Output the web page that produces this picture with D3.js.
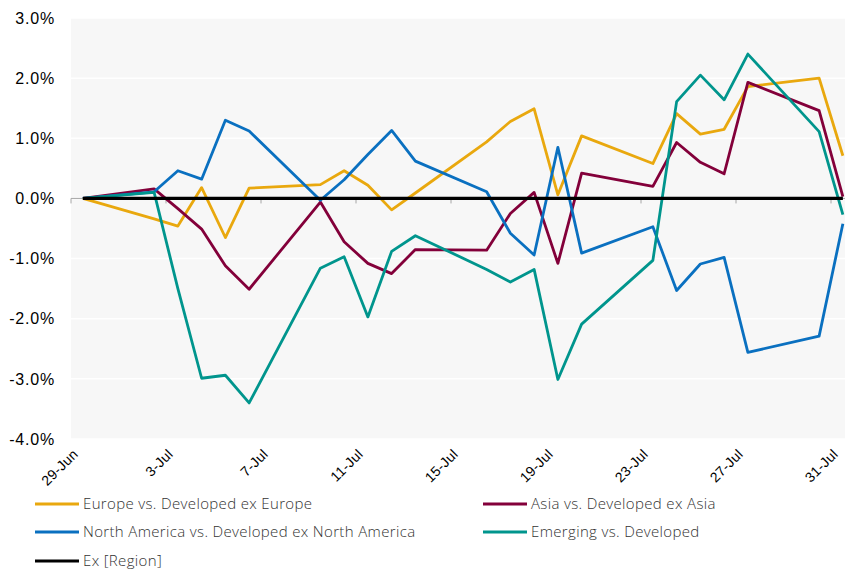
<!DOCTYPE html>
<html>
<head>
<meta charset="utf-8">
<script src="https://cdn.jsdelivr.net/npm/d3@7"></script>
<style>
  body { margin: 0; background: #fff; }
  svg { display: block; }
  .ylab { font-family: "Liberation Sans", Arial, sans-serif; font-size: 16px; letter-spacing: 0.8px; fill: #000; }
  .xlab { font-family: "Liberation Sans", Arial, sans-serif; font-size: 14px; letter-spacing: 0.3px; fill: #000; }
  .leg { font-family: "Open Sans", "Liberation Sans", sans-serif; font-size: 15px; font-weight: 300; letter-spacing: 0.35px; fill: #333; }
</style>
</head>
<body>
<div id="chart"></div>
<script>
// trading days, 29-Jun to 31-Jul
let dates = ["2018-06-29", "2018-07-02", "2018-07-03", "2018-07-04", "2018-07-05", "2018-07-06",
    "2018-07-09", "2018-07-10", "2018-07-11", "2018-07-12", "2018-07-13",
    "2018-07-16", "2018-07-17", "2018-07-18", "2018-07-19", "2018-07-20",
    "2018-07-23", "2018-07-24", "2018-07-25", "2018-07-26", "2018-07-27",
    "2018-07-30", "2018-07-31"];

// relative performance, in %
let europe   = [0, -0.34, -0.46, 0.18, -0.65, 0.17, 0.23, 0.46, 0.22, -0.19, 0.09, 0.94, 1.28, 1.49, 0.06, 1.04, 0.58, 1.41, 1.07, 1.15, 1.86, 2.00, 0.71];
let asia     = [0, 0.16, -0.17, -0.51, -1.12, -1.51, -0.06, -0.72, -1.08, -1.25, -0.85, -0.86, -0.25, 0.10, -1.08, 0.42, 0.20, 0.93, 0.60, 0.41, 1.93, 1.46, 0.03];
let nAmerica = [0, 0.11, 0.46, 0.32, 1.30, 1.12, -0.03, 0.31, 0.73, 1.13, 0.62, 0.11, -0.58, -0.94, 0.85, -0.91, -0.47, -1.53, -1.09, -0.98, -2.56, -2.29, -0.42];
let emerging = [0, 0.10, -1.50, -2.99, -2.94, -3.40, -1.16, -0.97, -1.97, -0.88, -0.62, -1.18, -1.39, -1.18, -3.01, -2.09, -1.03, 1.61, 2.05, 1.64, 2.40, 1.11, -0.27];
let exRegion = dates.map(() => 0);

let yTicks = [3, 2, 1, 0, -1, -2, -3, -4];
let xTickDates = ["2018-06-29", "2018-07-03", "2018-07-07", "2018-07-11", "2018-07-15",
    "2018-07-19", "2018-07-23", "2018-07-27", "2018-07-31"];

let series = [
    {name: "Europe vs. Developed ex Europe", values: europe, color: "#E9A80E"},
    {name: "Asia vs. Developed ex Asia", values: asia, color: "#83003A"},
    {name: "North America vs. Developed ex North America", values: nAmerica, color: "#0A70C0"},
    {name: "Emerging vs. Developed", values: emerging, color: "#00958D"},
    {name: "Ex [Region]", values: exRegion, color: "#000000"}
];

let width = 845, height = 570;
let plot = {left: 71, top: 18, bottom: 439};
let dayW = 23.75;

let parse = d3.utcParse("%Y-%m-%d");
let fmt = d3.utcFormat("%-d-%b");
let start = parse("2018-06-29");
let end = d3.utcDay.offset(start, 33);

let svg = d3.select("#chart").append("svg")
    .attr("width", width)
    .attr("height", height);

let x = d3.scaleUtc()
    .domain([start, end])
    .range([plot.left, plot.left + 33 * dayW]);

let y = d3.scaleLinear()
    .domain([-4, 3])
    .range([plot.bottom, plot.top]);

// points sit in the middle of each day slot
let xMid = d => x(d3.utcHour.offset(parse(d), 12));

// plot background
svg.append("rect")
    .attr("x", plot.left)
    .attr("y", plot.top)
    .attr("width", x.range()[1] - plot.left)
    .attr("height", plot.bottom - plot.top)
    .attr("fill", "#F7F7F7");

// gridlines
svg.selectAll(".grid")
    .data(yTicks)
    .enter().append("line")
    .attr("x1", plot.left)
    .attr("x2", x.range()[1])
    .attr("y1", d => y(d))
    .attr("y2", d => y(d))
    .attr("stroke", "#fff")
    .attr("stroke-width", 1.5);

// y labels
svg.selectAll(".ylab")
    .data(yTicks)
    .enter().append("text")
    .attr("class", "ylab")
    .attr("x", 55)
    .attr("y", d => y(d))
    .attr("dy", "0.36em")
    .attr("text-anchor", "end")
    .text(d => d.toFixed(1) + "%");

// category axis at zero with small ticks
svg.append("line")
    .attr("x1", plot.left)
    .attr("x2", x.range()[1])
    .attr("y1", y(0))
    .attr("y2", y(0))
    .attr("stroke", "#A6A6A6")
    .attr("stroke-width", 1);

svg.selectAll(".xtick")
    .data(xTickDates)
    .enter().append("line")
    .attr("x1", d => x(parse(d)))
    .attr("x2", d => x(parse(d)))
    .attr("y1", y(0))
    .attr("y2", y(0) + 5)
    .attr("stroke", "#A6A6A6")
    .attr("stroke-width", 1);

// x labels, rotated
svg.selectAll(".xlab")
    .data(xTickDates)
    .enter().append("text")
    .attr("class", "xlab")
    .attr("text-anchor", "end")
    .attr("transform", d => `translate(${xMid(d) - 4},${plot.bottom + 16}) rotate(-45)`)
    .text(d => fmt(parse(d)));

// lines
let line = d3.line()
    .x((d, i) => xMid(dates[i]))
    .y(d => y(d));

series.forEach(s => {
    svg.append("path")
        .datum(s.values)
        .attr("d", line)
        .attr("fill", "none")
        .attr("stroke", s.color)
        .attr("stroke-width", s.color === "#000000" ? 3.2 : 2.8)
        .attr("stroke-linejoin", "round");
});

// legend
let legPos = [[35, 504], [483, 504], [35, 532], [483, 532], [35, 561]];
series.forEach((s, i) => {
    let g = svg.append("g")
        .attr("transform", `translate(${legPos[i][0]},${legPos[i][1]})`);
    g.append("line")
        .attr("x1", 0).attr("x2", 44)
        .attr("y1", 0).attr("y2", 0)
        .attr("stroke", s.color)
        .attr("stroke-width", 3);
    g.append("text")
        .attr("class", "leg")
        .attr("x", 48)
        .attr("dy", "0.35em")
        .text(s.name);
});
</script>
</body>
</html>
